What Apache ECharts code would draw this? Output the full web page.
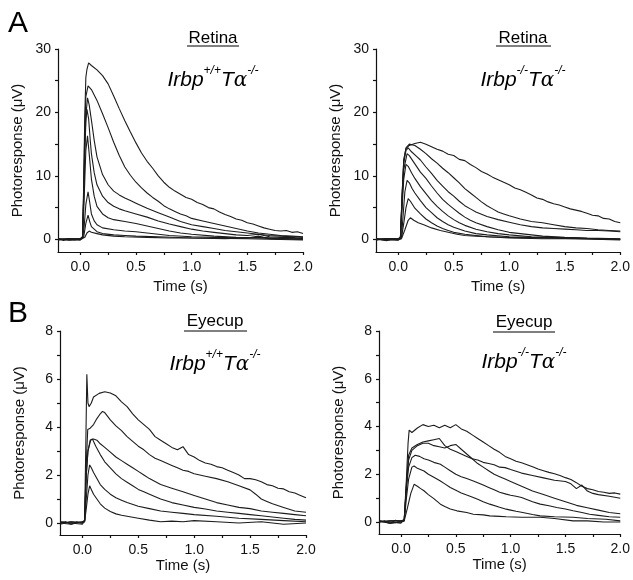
<!DOCTYPE html>
<html>
<head>
<meta charset="utf-8">
<script src="https://cdn.jsdelivr.net/npm/echarts@6/dist/echarts.min.js"></script>
<style>
html,body{margin:0;padding:0;background:#fff;}
#chart{width:633px;height:580px;}
</style>
</head>
<body>
<div id="chart"></div>
<script>
// ---------- tick labels ----------
const timeTickLabels = [0, 0.5, 1.0, 1.5, 2.0];
const timeTicks = [0, 0.25, 0.5, 0.75, 1.0, 1.25, 1.5, 1.75, 2.0];
const retinaTickLabels = [0, 10, 20, 30];
const retinaTicks = [0, 5, 10, 15, 20, 25, 30];
const eyecupTickLabels = [0, 2, 4, 6, 8];
const eyecupTicks = [0, 1, 2, 3, 4, 5, 6, 7, 8];

// ---------- A left: Retina Irbp+/+ Tα-/- ----------
const rwt1 = [[-0.2,0.1],[-0.15,-0.2],[-0.1,0.1],[-0.05,-0.1],[0,0.1],[0.02,0.4],[0.03,8],[0.04,19],[0.05,25.5],[0.06,26.8],[0.075,27.8],[0.1,27.4],[0.15,26.7],[0.2,25.8],[0.25,24.5],[0.3,22.6],[0.35,20.6],[0.4,18.7],[0.45,16.9],[0.5,15.2],[0.55,13.6],[0.6,12.3],[0.65,11.2],[0.7,10.0],[0.75,9.0],[0.8,8.2],[0.85,7.6],[0.9,7.1],[0.95,6.6],[1.0,6.3],[1.05,5.8],[1.1,5.5],[1.15,5.0],[1.2,4.8],[1.25,4.3],[1.3,3.9],[1.35,3.6],[1.4,3.2],[1.45,3.0],[1.5,2.6],[1.55,2.4],[1.6,2.1],[1.65,1.8],[1.7,1.6],[1.75,1.4],[1.8,1.3],[1.85,1.4],[1.9,1.1],[1.95,1.2],[2.0,0.9]];
const rwt2 = [[-0.2,0],[-0.1,0.1],[0,-0.1],[0.02,0.3],[0.03,7],[0.04,17],[0.05,22.5],[0.07,24.2],[0.1,23.6],[0.15,21.9],[0.2,19.8],[0.25,17.6],[0.3,15.3],[0.35,13.2],[0.4,11.4],[0.45,10.1],[0.5,9.0],[0.55,8.1],[0.6,7.3],[0.65,6.6],[0.7,6.0],[0.75,5.3],[0.8,4.8],[0.85,4.4],[0.9,4.0],[0.95,3.7],[1.0,3.3],[1.1,2.9],[1.2,2.5],[1.3,2.1],[1.4,1.7],[1.5,1.3],[1.6,1.0],[1.7,0.8],[1.8,0.6],[1.9,0.5],[2.0,0.4]];
const rwt3 = [[-0.2,-0.1],[-0.1,0.1],[0,0],[0.02,0.2],[0.03,6],[0.04,14],[0.05,19.5],[0.065,22.3],[0.08,21.2],[0.1,18.8],[0.125,15.6],[0.15,13.0],[0.2,10.2],[0.25,8.6],[0.3,7.6],[0.35,7.0],[0.4,6.5],[0.45,6.1],[0.5,5.7],[0.55,5.3],[0.6,4.9],[0.7,4.2],[0.8,3.5],[0.9,2.8],[1.0,2.3],[1.1,2.0],[1.2,1.7],[1.3,1.4],[1.4,1.2],[1.5,1.0],[1.6,0.8],[1.7,0.6],[1.8,0.5],[1.9,0.4],[2.0,0.3]];
const rwt4 = [[-0.2,0],[-0.1,-0.1],[0,0.1],[0.02,0.3],[0.03,6],[0.04,13],[0.05,18.5],[0.06,20.5],[0.075,19.0],[0.09,15.5],[0.1,13.5],[0.125,10.5],[0.15,8.6],[0.2,6.8],[0.25,5.8],[0.3,5.2],[0.35,4.8],[0.4,4.5],[0.5,4.0],[0.6,3.5],[0.7,2.9],[0.8,2.4],[0.9,2.0],[1.0,1.6],[1.1,1.3],[1.2,1.1],[1.3,0.9],[1.4,0.7],[1.5,0.6],[1.6,0.8],[1.7,0.4],[1.8,0.3],[1.9,0.3],[2.0,0.1]];
const rwt5 = [[-0.2,0.1],[-0.1,-0.1],[0,-0.1],[0.02,0.2],[0.03,4],[0.04,9],[0.05,14],[0.065,16.3],[0.08,13.5],[0.1,9.5],[0.125,6.8],[0.15,5.2],[0.2,4.0],[0.25,3.4],[0.3,3.1],[0.4,2.8],[0.5,2.5],[0.6,2.1],[0.7,1.7],[0.8,1.3],[0.9,1.0],[1.0,0.8],[1.2,0.5],[1.4,0.3],[1.6,0.2],[1.8,0.1],[2.0,0.1]];
const rwt6 = [[-0.2,0],[-0.1,0.1],[0,0.1],[0.02,0.1],[0.035,2],[0.05,5.5],[0.07,7.5],[0.085,5.8],[0.1,4.0],[0.125,2.9],[0.15,2.3],[0.2,1.8],[0.3,1.5],[0.4,1.3],[0.5,1.2],[0.6,1.0],[0.7,0.8],[0.8,0.6],[1.0,0.4],[1.2,0.3],[1.5,0.2],[1.6,0.5],[1.7,0.1],[2.0,0.0]];
const rwt7 = [[-0.2,0.1],[-0.1,-0.1],[0,0],[0.03,0.3],[0.05,2.5],[0.07,3.8],[0.085,2.8],[0.1,2.0],[0.15,1.2],[0.2,0.9],[0.3,0.7],[0.4,0.6],[0.5,0.5],[0.7,0.4],[1.0,0.2],[1.3,0.1],[1.6,0.3],[2.0,0.0]];
const rwt8 = [[-0.2,-0.1],[-0.1,0.1],[0,0.1],[0.04,0.3],[0.06,1.0],[0.08,1.3],[0.1,1.1],[0.15,0.9],[0.2,0.7],[0.3,0.5],[0.4,0.4],[0.6,0.3],[0.8,0.2],[1.0,0.2],[1.5,0.1],[2.0,-0.1]];

// ---------- A right: Retina Irbp-/- Tα-/- ----------
const rko1 = [[-0.2,0.1],[-0.15,-0.1],[-0.1,-0.2],[-0.05,0.1],[0,0.1],[0.02,0.3],[0.035,7],[0.05,12.5],[0.07,14.3],[0.1,14.8],[0.15,15.1],[0.2,15.3],[0.25,15.0],[0.3,14.6],[0.35,14.2],[0.4,13.9],[0.45,13.4],[0.5,13.2],[0.55,12.6],[0.6,12.4],[0.65,11.8],[0.7,11.3],[0.75,10.7],[0.8,10.3],[0.85,9.8],[0.9,9.4],[0.95,9.0],[1.0,8.6],[1.05,8.1],[1.1,7.8],[1.15,7.4],[1.2,7.0],[1.25,6.5],[1.3,6.3],[1.35,5.9],[1.4,5.6],[1.45,5.4],[1.5,5.1],[1.55,4.8],[1.6,4.6],[1.65,4.4],[1.7,4.1],[1.75,3.8],[1.8,3.7],[1.85,3.3],[1.9,3.2],[1.95,2.8],[2.0,2.6]];
const rko2 = [[-0.2,0],[-0.1,0.1],[0,-0.1],[0.02,0.3],[0.035,7],[0.05,12.5],[0.07,14.4],[0.1,15.0],[0.15,14.8],[0.2,14.2],[0.25,13.5],[0.3,12.7],[0.35,12.0],[0.4,11.2],[0.45,10.5],[0.5,9.7],[0.55,8.9],[0.6,8.0],[0.65,7.3],[0.7,6.6],[0.75,5.9],[0.8,5.3],[0.85,4.8],[0.9,4.3],[0.95,4.0],[1.0,3.7],[1.1,3.2],[1.2,2.8],[1.3,2.6],[1.4,2.3],[1.5,2.0],[1.6,1.8],[1.7,1.7],[1.8,1.5],[1.9,1.4],[2.0,1.3]];
const rko3 = [[-0.2,-0.1],[-0.1,0.1],[0,0.1],[0.02,0.2],[0.035,6.5],[0.05,12],[0.07,14.0],[0.09,14.4],[0.12,13.8],[0.17,13.0],[0.2,12.5],[0.25,11.4],[0.3,10.4],[0.35,9.3],[0.4,8.4],[0.45,7.5],[0.5,6.8],[0.55,6.0],[0.6,5.3],[0.65,4.8],[0.7,4.3],[0.8,3.6],[0.9,3.1],[1.0,2.7],[1.1,2.3],[1.2,2.0],[1.3,1.8],[1.4,1.7],[1.5,1.6],[1.6,1.5],[1.7,1.4],[1.8,1.4],[1.9,1.3],[2.0,1.2]];
const rko4 = [[-0.2,0],[-0.1,-0.1],[0,0],[0.02,0.2],[0.035,6],[0.05,11],[0.08,13.5],[0.1,13.2],[0.15,11.9],[0.2,10.6],[0.25,9.6],[0.3,8.4],[0.35,7.3],[0.4,6.3],[0.45,5.5],[0.5,4.8],[0.55,4.1],[0.6,3.5],[0.65,3.0],[0.7,2.6],[0.8,2.0],[0.9,1.5],[1.0,1.1],[1.1,0.9],[1.2,0.7],[1.3,0.5],[1.5,0.3],[1.7,0.2],[2.0,0.1]];
const rko5 = [[-0.2,0.1],[-0.1,0],[0,-0.1],[0.02,0.2],[0.035,5],[0.05,9.5],[0.07,11.8],[0.09,11.5],[0.12,10.5],[0.15,9.6],[0.2,8.3],[0.25,7.2],[0.3,6.1],[0.35,5.2],[0.4,4.4],[0.45,3.7],[0.5,3.1],[0.55,2.6],[0.6,2.2],[0.7,1.6],[0.8,1.2],[0.9,0.9],[1.0,0.7],[1.2,0.4],[1.4,0.3],[1.6,0.2],[1.8,0.1],[2.0,0.0]];
const rko6 = [[-0.2,-0.1],[-0.1,0.1],[0,0.1],[0.03,0.4],[0.045,4],[0.06,7.5],[0.08,9.3],[0.1,8.9],[0.125,8.0],[0.15,7.3],[0.2,6.1],[0.25,5.0],[0.3,4.2],[0.35,3.4],[0.4,2.8],[0.45,2.3],[0.5,1.9],[0.6,1.3],[0.7,0.9],[0.8,0.7],[1.0,0.4],[1.2,0.3],[1.5,0.2],[2.0,0.0]];
const rko7 = [[-0.2,0],[-0.1,0.1],[0,0],[0.03,0.3],[0.05,2.5],[0.07,5],[0.09,6.4],[0.11,6.0],[0.15,4.9],[0.2,4.0],[0.25,3.2],[0.3,2.6],[0.35,2.1],[0.4,1.7],[0.45,1.4],[0.5,1.1],[0.6,0.8],[0.7,0.6],[0.8,0.4],[1.0,0.3],[1.3,0.2],[1.6,0.1],[2.0,0.0]];
const rko8 = [[-0.2,0.1],[-0.1,-0.1],[0,-0.1],[0.03,0.1],[0.06,1.5],[0.09,3.0],[0.11,3.4],[0.14,3.0],[0.18,2.6],[0.23,2.3],[0.3,1.8],[0.38,1.4],[0.45,1.1],[0.53,0.8],[0.6,0.6],[0.7,0.5],[0.8,0.4],[1.0,0.2],[1.3,0.1],[1.6,0.1],[2.0,-0.1]];

// ---------- B left: Eyecup Irbp+/+ Tα-/- ----------
const ewt1 = [[-0.2,0.0],[-0.15,0.05],[-0.1,-0.05],[-0.05,0.05],[0,0.0],[0.02,0.1],[0.03,3.0],[0.04,6.2],[0.05,5.0],[0.06,4.85],[0.08,5.0],[0.1,5.25],[0.15,5.4],[0.2,5.47],[0.25,5.42],[0.3,5.3],[0.35,5.05],[0.4,4.85],[0.45,4.55],[0.5,4.3],[0.55,4.1],[0.6,3.9],[0.65,3.6],[0.7,3.45],[0.75,3.3],[0.8,3.15],[0.85,3.05],[0.9,3.18],[0.95,2.85],[1.0,2.75],[1.05,2.6],[1.1,2.5],[1.15,2.45],[1.2,2.35],[1.25,2.3],[1.3,2.2],[1.35,2.1],[1.4,2.0],[1.45,1.85],[1.5,1.85],[1.55,1.8],[1.6,1.72],[1.65,1.6],[1.7,1.55],[1.75,1.45],[1.8,1.42],[1.85,1.3],[1.9,1.25],[1.95,1.15],[2.0,1.05]];
const ewt2 = [[-0.2,0.05],[-0.1,0.0],[0,0.05],[0.02,0.1],[0.035,2.5],[0.048,3.9],[0.07,3.95],[0.1,4.1],[0.13,4.35],[0.16,4.55],[0.18,4.65],[0.2,4.6],[0.25,4.3],[0.3,4.05],[0.35,3.85],[0.4,3.6],[0.45,3.4],[0.5,3.2],[0.55,3.05],[0.6,2.85],[0.65,2.7],[0.7,2.6],[0.75,2.5],[0.8,2.4],[0.85,2.3],[0.9,2.2],[0.95,2.15],[1.0,2.05],[1.1,1.95],[1.2,1.85],[1.3,1.72],[1.4,1.55],[1.5,1.38],[1.55,1.2],[1.6,1.0],[1.65,0.9],[1.7,0.8],[1.8,0.65],[1.9,0.5],[2.0,0.45]];
const ewt3 = [[-0.2,0],[-0.1,0.05],[0,0],[0.02,0.1],[0.035,2.0],[0.05,3.0],[0.075,3.46],[0.1,3.5],[0.13,3.45],[0.16,3.3],[0.2,3.15],[0.25,2.95],[0.3,2.75],[0.35,2.6],[0.4,2.45],[0.45,2.3],[0.5,2.15],[0.55,2.0],[0.6,1.85],[0.7,1.6],[0.8,1.45],[0.9,1.3],[1.0,1.15],[1.1,1.0],[1.2,0.85],[1.3,0.75],[1.4,0.65],[1.5,0.6],[1.6,0.5],[1.7,0.45],[1.8,0.4],[1.9,0.35],[2.0,0.3]];
const ewt4 = [[-0.2,0.05],[-0.1,0.0],[0,-0.05],[0.02,0.1],[0.035,2.0],[0.05,3.0],[0.07,3.45],[0.09,3.5],[0.12,3.2],[0.16,2.85],[0.2,2.55],[0.25,2.3],[0.3,2.05],[0.35,1.85],[0.4,1.7],[0.45,1.55],[0.5,1.4],[0.55,1.3],[0.6,1.2],[0.7,1.0],[0.8,0.85],[0.9,0.75],[1.0,0.65],[1.1,0.58],[1.2,0.5],[1.3,0.45],[1.4,0.4],[1.5,0.35],[1.6,0.3],[1.7,0.25],[1.8,0.2],[1.9,0.15],[2.0,0.12]];
const ewt5 = [[-0.2,0.0],[-0.1,-0.05],[0,0.05],[0.02,0.05],[0.035,1.0],[0.05,2.0],[0.065,2.42],[0.08,2.3],[0.1,2.1],[0.13,1.85],[0.16,1.6],[0.2,1.4],[0.25,1.2],[0.3,1.05],[0.35,0.95],[0.4,0.85],[0.5,0.7],[0.6,0.6],[0.7,0.5],[0.8,0.45],[0.9,0.4],[1.0,0.35],[1.2,0.28],[1.4,0.2],[1.6,0.15],[1.8,0.1],[2.0,0.05]];
const ewt6 = [[-0.2,-0.05],[-0.1,0.05],[0,0.0],[0.02,0.05],[0.035,0.6],[0.05,1.2],[0.065,1.55],[0.08,1.4],[0.1,1.2],[0.13,1.0],[0.16,0.8],[0.2,0.62],[0.25,0.48],[0.3,0.38],[0.35,0.32],[0.4,0.28],[0.5,0.2],[0.6,0.12],[0.7,0.05],[0.8,0.08],[0.9,0.05],[1.0,0.1],[1.2,0.05],[1.4,0.0],[1.6,0.05],[1.8,-0.05],[2.0,0.0]];

// ---------- B right: Eyecup Irbp-/- Tα-/- ----------
const eko1 = [[-0.2,0.0],[-0.15,0.05],[-0.1,-0.05],[-0.05,0.08],[0,0.0],[0.03,0.1],[0.05,1.8],[0.065,3.3],[0.075,3.85],[0.1,3.75],[0.15,3.94],[0.2,4.08],[0.25,4.0],[0.3,4.05],[0.35,3.95],[0.4,4.05],[0.45,3.95],[0.5,4.08],[0.55,3.9],[0.6,3.8],[0.65,3.65],[0.7,3.5],[0.75,3.35],[0.8,3.2],[0.85,3.05],[0.9,2.92],[0.95,2.75],[1.0,2.65],[1.05,2.55],[1.1,2.48],[1.15,2.4],[1.2,2.32],[1.25,2.22],[1.3,2.15],[1.35,2.08],[1.4,2.02],[1.45,1.95],[1.5,1.86],[1.55,1.78],[1.6,1.65],[1.65,1.5],[1.7,1.4],[1.75,1.35],[1.8,1.28],[1.85,1.25],[1.9,1.2],[1.95,1.22],[2.0,1.17]];
const eko2 = [[-0.2,0.05],[-0.1,0.0],[0,-0.05],[0.03,0.1],[0.05,1.6],[0.07,2.8],[0.1,3.1],[0.15,3.25],[0.2,3.35],[0.25,3.4],[0.3,3.45],[0.35,3.5],[0.4,3.2],[0.45,3.05],[0.5,2.95],[0.55,2.85],[0.6,2.75],[0.65,2.65],[0.7,2.6],[0.75,2.5],[0.8,2.45],[0.85,2.4],[0.9,2.3],[0.95,2.28],[1.0,2.2],[1.1,2.05],[1.2,1.95],[1.3,1.85],[1.4,1.75],[1.5,1.7],[1.55,1.6],[1.6,1.4],[1.65,1.55],[1.7,1.3],[1.75,1.2],[1.8,1.15],[1.9,1.08],[2.0,1.0]];
const eko3 = [[-0.2,0.0],[-0.1,0.05],[0,0.05],[0.03,0.1],[0.05,1.5],[0.07,2.6],[0.1,3.0],[0.15,3.2],[0.2,3.3],[0.25,3.3],[0.3,3.2],[0.35,3.15],[0.4,3.1],[0.45,3.2],[0.5,3.25],[0.55,3.05],[0.6,2.85],[0.65,2.65],[0.7,2.45],[0.75,2.3],[0.8,2.15],[0.85,2.0],[0.9,1.9],[0.95,1.8],[1.0,1.7],[1.1,1.5],[1.2,1.3],[1.3,1.15],[1.4,1.0],[1.5,0.85],[1.6,0.7],[1.7,0.6],[1.8,0.5],[1.9,0.4],[2.0,0.35]];
const eko4 = [[-0.2,0.05],[-0.1,-0.05],[0,0.0],[0.03,0.1],[0.05,1.4],[0.07,2.3],[0.1,2.7],[0.13,2.8],[0.17,2.75],[0.21,2.65],[0.25,2.6],[0.3,2.5],[0.36,2.42],[0.4,2.3],[0.45,2.15],[0.5,2.0],[0.55,1.9],[0.6,1.82],[0.66,1.72],[0.7,1.65],[0.75,1.55],[0.8,1.45],[0.85,1.35],[0.9,1.25],[0.96,1.17],[1.0,1.12],[1.05,1.08],[1.1,1.03],[1.2,0.85],[1.27,0.75],[1.35,0.68],[1.42,0.61],[1.5,0.55],[1.57,0.47],[1.65,0.4],[1.72,0.33],[1.8,0.28],[1.9,0.22],[2.0,0.2]];
const eko5 = [[-0.2,0.0],[-0.1,0.05],[0,0.05],[0.03,0.05],[0.05,1.0],[0.07,1.8],[0.1,2.3],[0.12,2.35],[0.15,2.25],[0.21,2.14],[0.25,2.0],[0.3,1.88],[0.36,1.72],[0.4,1.6],[0.45,1.45],[0.51,1.31],[0.55,1.22],[0.6,1.13],[0.66,1.03],[0.7,0.95],[0.75,0.85],[0.81,0.75],[0.9,0.62],[0.96,0.54],[1.0,0.5],[1.05,0.45],[1.11,0.4],[1.2,0.32],[1.27,0.26],[1.4,0.22],[1.57,0.2],[1.7,0.15],[1.87,0.12],[2.0,0.05]];
const eko6 = [[-0.2,0.05],[-0.1,-0.05],[0,0.0],[0.03,0.05],[0.06,0.6],[0.09,1.2],[0.12,1.58],[0.15,1.5],[0.18,1.4],[0.21,1.31],[0.25,1.15],[0.3,0.98],[0.36,0.75],[0.4,0.65],[0.45,0.55],[0.51,0.47],[0.6,0.4],[0.66,0.33],[0.75,0.3],[0.81,0.26],[0.9,0.24],[0.96,0.22],[1.1,0.2],[1.27,0.2],[1.4,0.15],[1.57,0.05],[1.7,0.05],[1.85,0.0],[2.0,0.0]];

// ---------- texts ----------
const panelLetters = ['A', 'B'];
const tissueTitles = ['Retina', 'Retina', 'Eyecup', 'Eyecup'];
const genotypeSup = [['+/+', '-/-'], ['-/-', '-/-'], ['+/+', '-/-'], ['-/-', '-/-']];
const xAxisTitle = 'Time (s)';
const yAxisTitle = 'Photoresponse (\u03bcV)';

const FONT = '"Liberation Sans", Arial, Helvetica, sans-serif';
const GREEK = '"DejaVu Serif", "DejaVu Sans", serif';
const LINE = '#1c1c1c';

const panels = [
  {grid: {left: 58, top: 49, width: 245, height: 203}, yMin: -2, yMax: 30, yLabels: retinaTickLabels, yTicks: retinaTicks, xGap: 27, series: [rwt1, rwt2, rwt3, rwt4, rwt5, rwt6, rwt7, rwt8]},
  {grid: {left: 376, top: 49, width: 246, height: 203}, yMin: -2, yMax: 30, yLabels: retinaTickLabels, yTicks: retinaTicks, xGap: 27, series: [rko1, rko2, rko3, rko4, rko5, rko6, rko7, rko8]},
  {grid: {left: 60, top: 331, width: 246, height: 204}, yMin: -0.5, yMax: 8, yLabels: eyecupTickLabels, yTicks: eyecupTicks, xGap: 20, series: [ewt1, ewt2, ewt3, ewt4, ewt5, ewt6]},
  {grid: {left: 379, top: 331, width: 245, height: 203}, yMin: -0.5, yMax: 8, yLabels: eyecupTickLabels, yTicks: eyecupTicks, xGap: 20, series: [eko1, eko2, eko3, eko4, eko5, eko6]}
];

const axisCommon = {
  axisLine: {show: true, onZero: false, lineStyle: {color: '#111', width: 1.2}},
  axisTick: {show: true, inside: false, length: 3, lineStyle: {color: '#111', width: 1.2}},
  splitLine: {show: false},
  nameTextStyle: {fontFamily: FONT, fontSize: 15, color: '#111'}
};

const grid = [], xAxis = [], yAxis = [], series = [];
panels.forEach((p, i) => {
  grid.push(Object.assign({containLabel: false}, p.grid));
  xAxis.push(Object.assign({}, axisCommon, {
    type: 'value', gridIndex: i, min: -0.2, max: 2.0,
    name: xAxisTitle, nameLocation: 'middle', nameGap: p.xGap,
    axisTick: Object.assign({}, axisCommon.axisTick, {customValues: timeTicks}),
    axisLabel: {customValues: timeTickLabels, formatter: v => v.toFixed(1), fontFamily: FONT, fontSize: 14, color: '#111', margin: 8}
  }));
  yAxis.push(Object.assign({}, axisCommon, {
    type: 'value', gridIndex: i, min: p.yMin, max: p.yMax,
    name: yAxisTitle, nameLocation: 'middle', nameGap: 33, nameRotate: 90,
    axisTick: Object.assign({}, axisCommon.axisTick, {customValues: p.yTicks}),
    axisLabel: {customValues: p.yLabels, formatter: v => String(v), fontFamily: FONT, fontSize: 14, color: '#111', margin: 7}
  }));
  p.series.forEach(d => {
    series.push({
      type: 'line', xAxisIndex: i, yAxisIndex: i, data: d,
      showSymbol: false, symbol: 'none', smooth: false, clip: true,
      lineStyle: {color: LINE, width: 1.1}, silent: true
    });
  });
});

// titles / annotations (positions are layout only)
const titlePos = [
  {cx: 213, ty: 38, ux0: 187, ux1: 239, uy: 46, gy: 78},
  {cx: 523, ty: 38, ux0: 496, ux1: 551, uy: 46, gy: 78},
  {cx: 215, ty: 321, ux0: 184, ux1: 247, uy: 331, gy: 362},
  {cx: 524, ty: 322, ux0: 493, ux1: 555, uy: 332, gy: 360}
];
const graphic = [];
panelLetters.forEach((L, k) => {
  graphic.push({type: 'text', left: 8, top: k === 0 ? 9 : 299, style: {text: L, font: '30px ' + FONT, fill: '#000'}});
});
titlePos.forEach((t, i) => {
  graphic.push({type: 'text', style: {x: t.cx, y: t.ty, text: tissueTitles[i], font: '17px ' + FONT, fill: '#000', align: 'center', verticalAlign: 'middle'}});
  graphic.push({type: 'line', shape: {x1: t.ux0, y1: t.uy, x2: t.ux1, y2: t.uy}, style: {stroke: '#000', lineWidth: 1}});
  const sup = genotypeSup[i];
  graphic.push({type: 'text', style: {
    x: t.cx, y: t.gy, align: 'center', verticalAlign: 'middle',
    text: '{i|Irbp}{s|' + sup[0] + '}{i|T}{g|\u03b1}{s|' + sup[1] + '}',
    rich: {
      i: {fontFamily: FONT, fontStyle: 'italic', fontSize: 21, lineHeight: 26, verticalAlign: 'bottom', color: '#000'},
      g: {fontFamily: GREEK, fontStyle: 'italic', fontSize: 20, lineHeight: 26, verticalAlign: 'bottom', color: '#000'},
      s: {fontFamily: FONT, fontStyle: 'italic', fontSize: 12, lineHeight: 14, verticalAlign: 'top', color: '#000'}
    }
  }});
});

const chart = echarts.init(document.getElementById('chart'), null, {renderer: 'canvas'});
chart.setOption({
  animation: false,
  backgroundColor: '#fff',
  textStyle: {fontFamily: FONT},
  grid, xAxis, yAxis, series, graphic
});
</script>
</body>
</html>
